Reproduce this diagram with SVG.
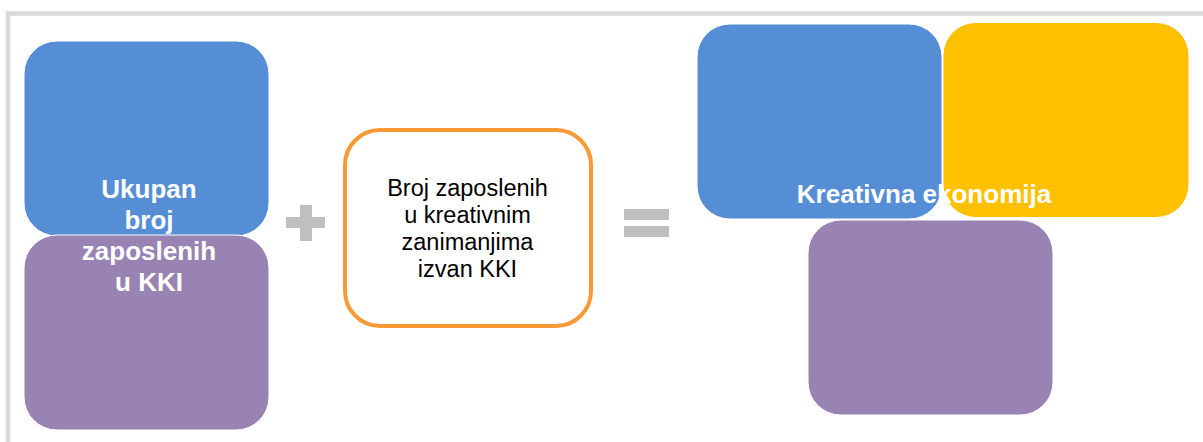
<svg xmlns="http://www.w3.org/2000/svg" width="1203" height="442" viewBox="0 0 1203 442">
<style>
.blue{fill:#558ED5;stroke:#ffffff;stroke-width:1}
.purple{fill:#9983B3;stroke:#ffffff;stroke-width:1}
.yellow{fill:#FFC000;stroke:#ffffff;stroke-width:1}
.op{fill:#BFBFBF}
.lbl{font-family:"Liberation Sans",Arial,sans-serif;font-weight:bold;font-size:26px;fill:#ffffff;text-anchor:middle}
.mid{font-family:"Liberation Sans",Arial,sans-serif;font-size:23.5px;fill:#000000;text-anchor:middle}
</style>
<rect x="8" y="13.5" width="1220" height="450" fill="#ffffff" stroke="#D9D9D9" stroke-width="4.5"/>
<g id="node-left">
<rect class="blue" x="24" y="41" width="245" height="195" rx="33"/>
<rect class="purple" x="24" y="235" width="245" height="195" rx="33"/>
<text class="lbl" x="149" y="198">Ukupan</text>
<text class="lbl" x="149" y="229">broj</text>
<text class="lbl" x="149" y="260">zaposlenih</text>
<text class="lbl" x="149" y="291">u KKI</text>
</g>
<g id="node-plus">
<rect class="op" x="286" y="217" width="39" height="11"/>
<rect class="op" x="300" y="205" width="12" height="36"/>
</g>
<g id="node-middle">
<rect x="345" y="130" width="246" height="196" rx="35" fill="#ffffff" stroke="#F79A35" stroke-width="4"/>
<text class="mid" x="467.5" y="196">Broj zaposlenih</text>
<text class="mid" x="467.5" y="223">u kreativnim</text>
<text class="mid" x="467.5" y="250">zanimanjima</text>
<text class="mid" x="467.5" y="277">izvan KKI</text>
</g>
<g id="node-equals">
<rect class="op" x="624" y="209" width="45" height="11"/>
<rect class="op" x="624" y="226" width="45" height="11"/>
</g>
<g id="node-right">
<rect class="blue" x="697" y="24" width="245" height="195" rx="33"/>
<rect class="yellow" x="943" y="22.5" width="246" height="195" rx="33"/>
<rect class="purple" x="808" y="220" width="245" height="195" rx="33"/>
<text class="lbl" x="924" y="203">Kreativna ekonomija</text>
</g>
<g id="connectors"></g>
</svg>
